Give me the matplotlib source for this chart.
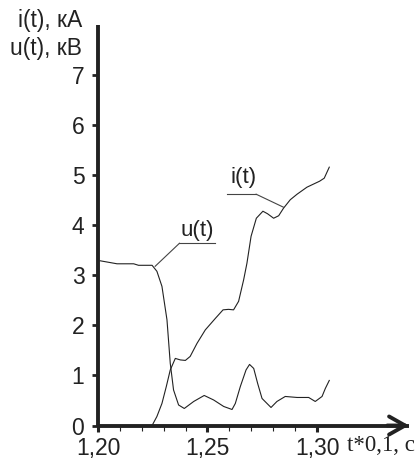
import matplotlib
matplotlib.use("Agg")
import matplotlib.pyplot as plt
from matplotlib.ticker import FixedLocator

plt.rcParams['font.family'] = ['Liberation Sans', 'DejaVu Sans']

# voltage u(t), kV
t_u = [1.2010, 1.2087, 1.2163, 1.2185, 1.2247, 1.2269, 1.2292, 1.2315, 1.2330,
       1.2345, 1.2368, 1.2394, 1.2437, 1.2485, 1.2528, 1.2574, 1.2612, 1.2627,
       1.2650, 1.2676, 1.2692, 1.2711, 1.2729, 1.2749, 1.2790, 1.2817, 1.2855,
       1.2909, 1.2962, 1.2992, 1.3023, 1.3038, 1.3056]
u_vals = [3.29, 3.23, 3.23, 3.20, 3.20, 3.08, 2.78, 2.11, 1.24,
          0.71, 0.41, 0.34, 0.48, 0.60, 0.51, 0.38, 0.32, 0.44,
          0.78, 1.11, 1.22, 1.14, 0.84, 0.54, 0.36, 0.48, 0.58,
          0.56, 0.56, 0.48, 0.58, 0.74, 0.90]

# current i(t), kA
t_i = [1.2247, 1.2269, 1.2292, 1.2312, 1.2330, 1.2353, 1.2376, 1.2399, 1.2421,
       1.2452, 1.2490, 1.2536, 1.2571, 1.2596, 1.2619, 1.2642, 1.2665, 1.2680,
       1.2699, 1.2723, 1.2753, 1.2774, 1.2802, 1.2825, 1.2847, 1.2878, 1.2909,
       1.2954, 1.3012, 1.3033, 1.3056]
i_vals = [0.00, 0.18, 0.44, 0.78, 1.11, 1.34, 1.31, 1.30, 1.38,
          1.64, 1.91, 2.14, 2.31, 2.32, 2.31, 2.48, 2.91, 3.24,
          3.78, 4.14, 4.28, 4.23, 4.14, 4.19, 4.34, 4.51, 4.62,
          4.76, 4.88, 4.94, 5.16]

x_major = [1.20, 1.25, 1.30]
x_major_labels = ["1,20", "1,25", "1,30"]
x_minor = [1.21, 1.22, 1.23, 1.24, 1.26, 1.27, 1.28, 1.29]
y_major = [0, 1, 2, 3, 4, 5, 6, 7]

ink = "#222222"

fig = plt.figure(figsize=(4.2, 4.61), dpi=100)
ax = fig.add_axes([0.2333, 0.0770, 0.7405, 0.8688])

ax.plot(t_u, u_vals, color=ink, lw=0.8)
ax.plot(t_i, i_vals, color=ink, lw=0.8)

# callout labels with leader lines
ax.plot([1.2722, 1.2588], [4.62, 4.62], color="#444444", lw=0.8)
ax.plot([1.2722, 1.2847], [4.62, 4.36], color="#444444", lw=0.8)
ax.text(1.2663, 4.84, "i(t)", ha="center", va="baseline", fontsize=16, color=ink)

ax.plot([1.2535, 1.2372], [3.64, 3.64], color="#444444", lw=0.8)
ax.plot([1.2372, 1.2261], [3.64, 3.18], color="#444444", lw=0.8)
ax.text(1.2455, 3.79, "u(t)", ha="center", va="baseline", fontsize=16, color=ink)

ax.set_xlim(1.20, 1.342)
ax.set_ylim(0, 8.0)

for side in ("top", "right"):
    ax.spines[side].set_visible(False)
for side in ("left", "bottom"):
    ax.spines[side].set_linewidth(2.8)
    ax.spines[side].set_color(ink)
    ax.spines[side].set_capstyle("butt")

ax.set_xticks(x_major)
ax.set_xticklabels(x_major_labels)
ax.xaxis.set_minor_locator(FixedLocator(x_minor))
ax.set_yticks(y_major)
ax.tick_params(axis="x", which="major", direction="out", length=4.3, width=2.2,
               pad=4, labelsize=16.5, colors=ink)
ax.tick_params(axis="x", which="minor", direction="out", length=3.6, width=0.8,
               colors=ink)
ax.tick_params(axis="y", which="major", direction="out", length=4.3, width=2.0,
               pad=5.5, labelsize=16.5, colors=ink)

# arrowhead at the end of the time axis
ax.annotate("", xy=(1.0, 0), xytext=(0.93, 0), xycoords="axes fraction",
            textcoords="axes fraction",
            arrowprops=dict(arrowstyle="->,head_length=1.15,head_width=0.65",
                            lw=2.8, color=ink, shrinkA=0, shrinkB=0),
            annotation_clip=False)

fig.text(82 / 420, 1 - 27 / 461, "i(t), кА", ha="right", va="baseline",
         fontsize=16.5, color=ink)
fig.text(82 / 420, 1 - 55 / 461, "u(t), кВ", ha="right", va="baseline",
         fontsize=16.5, color=ink)
fig.text(347 / 420, 1 - 451 / 461, "t*0,1, c", ha="left", va="baseline",
         fontsize=16.5, color=ink, family=["Liberation Serif", "DejaVu Serif"])

fig.savefig("out.png", dpi=100)
